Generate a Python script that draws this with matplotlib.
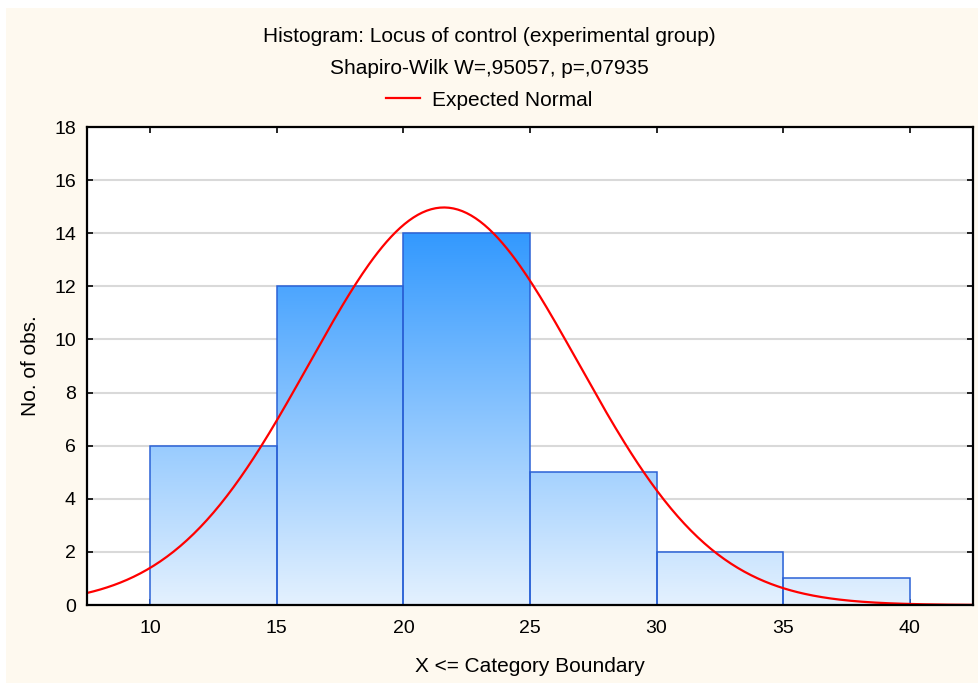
import numpy as np
import matplotlib
matplotlib.use("Agg")
import matplotlib.pyplot as plt
from matplotlib.colors import LinearSegmentedColormap
from matplotlib.patches import Rectangle

plt.rcParams['font.family'] = ['Liberation Sans', 'DejaVu Sans']

# data
bin_left = [10, 15, 20, 25, 30, 35]
bin_width = 5
counts = [6, 12, 14, 5, 2, 1]
# expected normal parameters (estimated from the curve)
norm_mean = 21.6
norm_sd = 5.33
n_obs = sum(counts)

xticks = [10, 15, 20, 25, 30, 35, 40]
yticks = [0, 2, 4, 6, 8, 10, 12, 14, 16, 18]

fs_tick = 14
fs = 15
bg = '#FEF9EF'
fig = plt.figure(figsize=(9.79, 6.84), dpi=100, facecolor='white')
# cream panel, inset a few pixels like the original export
fig.patches.append(Rectangle((6/979, 1/684), 973/979, 675/684, transform=fig.transFigure,
                             facecolor=bg, edgecolor='none', zorder=-10))
ax = fig.add_axes([87/979, 79/684, 886/979, 478/684])
ax.set_facecolor('white')

# bars with a vertical blue gradient (same shade at same height)
cmap = LinearSegmentedColormap.from_list('bl', ['#E4F1FE', '#3399FF'])
grad = np.linspace(0, 1, 256).reshape(-1, 1)
bars = ax.bar(bin_left, counts, width=bin_width, align='edge',
              facecolor='none', edgecolor='#2B62D6', linewidth=1.1, zorder=3)
for b in bars:
    im = ax.imshow(grad, cmap=cmap, origin='lower', aspect='auto',
                   extent=[7.5, 42.5, 0, max(counts)], zorder=2,
                   interpolation='bilinear')
    im.set_clip_path(b)
ax.set_xlim(7.5, 42.5)
ax.set_ylim(0, 18)

# expected normal curve
xs = np.linspace(7.5, 42.5, 400)
ys = n_obs * bin_width / (norm_sd * np.sqrt(2 * np.pi)) * np.exp(-(xs - norm_mean) ** 2 / (2 * norm_sd ** 2))
line, = ax.plot(xs, ys, color='#FF0000', lw=1.6, zorder=4, label='Expected Normal')

ax.set_xticks(xticks)
ax.set_yticks(yticks)
ax.tick_params(direction='in', length=4, width=1.2, labelsize=fs_tick, top=True, right=True,
               labeltop=False, labelright=False)
ax.tick_params(axis='x', pad=11)
ax.tick_params(axis='y', pad=8)
ax.yaxis.grid(True, color='#D9D9D9', lw=1.5, zorder=0)
ax.set_axisbelow(True)
for s in ax.spines.values():
    s.set_linewidth(1.6)
    s.set_zorder(5)

ax.set_xlabel('X <= Category Boundary', fontsize=fs, labelpad=14)
ax.set_ylabel('No. of obs.', fontsize=fs, labelpad=10)

fig.text(0.5, 1 - 37/684, 'Histogram: Locus of control (experimental group)',
         ha='center', va='center', fontsize=fs)
fig.text(0.5, 1 - 69/684, 'Shapiro-Wilk W=,95057, p=,07935',
         ha='center', va='center', fontsize=fs)
fig.legend(handles=[line], loc='center', bbox_to_anchor=(0.5, 1 - 100/684),
           frameon=False, fontsize=fs, handlelength=1.6, handletextpad=0.6)

fig.savefig('out.png', dpi=100, facecolor='white')
